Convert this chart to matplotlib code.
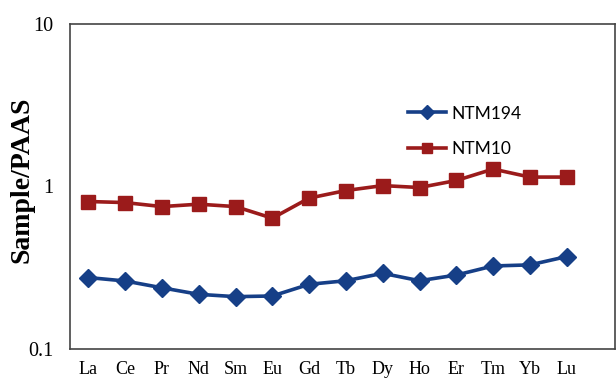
import numpy as np
import matplotlib
matplotlib.use('Agg')
import matplotlib.pyplot as plt

# REE values normalised to PAAS
elements = ['La', 'Ce', 'Pr', 'Nd', 'Sm', 'Eu', 'Gd', 'Tb', 'Dy', 'Ho', 'Er', 'Tm', 'Yb', 'Lu']
ntm194 = [0.274, 0.261, 0.237, 0.216, 0.209, 0.211, 0.249, 0.262, 0.291, 0.262, 0.284, 0.323, 0.328, 0.369]
ntm10 = [0.806, 0.794, 0.750, 0.776, 0.750, 0.636, 0.846, 0.942, 1.01, 0.983, 1.086, 1.277, 1.14, 1.14]

blue = '#163f87'
red = '#9b1b1b'

fig = plt.figure(figsize=(6.16, 3.81), dpi=100)
ax = fig.add_axes([0.1136, 0.085, 0.884, 0.852])

x = np.arange(len(elements))
ax.plot(x, ntm194, color=blue, lw=2.6, marker='D', ms=9, label='NTM194')
ax.plot(x, ntm10, color=red, lw=2.6, marker='s', ms=10.5, label='NTM10')

ax.set_yscale('log')
ax.set_ylim(0.1, 10)
ax.set_xlim(-0.5, 14.3)
ax.set_xticks(x)
ax.set_xticklabels(elements, fontfamily='Liberation Serif', fontsize=13)
ax.set_yticks([0.1, 1, 10])
ax.set_yticklabels(['0.1', '1', '10'], fontfamily='Liberation Serif', fontsize=14.5)
ax.yaxis.set_minor_locator(matplotlib.ticker.NullLocator())
ax.tick_params(axis='x', length=0, pad=9)
ax.tick_params(axis='y', length=0, pad=12)

ax.set_ylabel('Sample/PAAS', fontfamily='Liberation Serif', fontweight='bold', fontsize=20)
ax.yaxis.set_label_coords(-0.066, 0.52)

for s in ax.spines.values():
    s.set_color('#444444')
    s.set_linewidth(1.2)

ax.legend(loc='upper left', bbox_to_anchor=(0.592, 0.797), frameon=False,
          prop={'family': 'Lato', 'size': 12.5}, handlelength=2.2,
          labelspacing=1.1, handletextpad=0.3, markerscale=0.75)

fig.savefig('out.png', dpi=100)
